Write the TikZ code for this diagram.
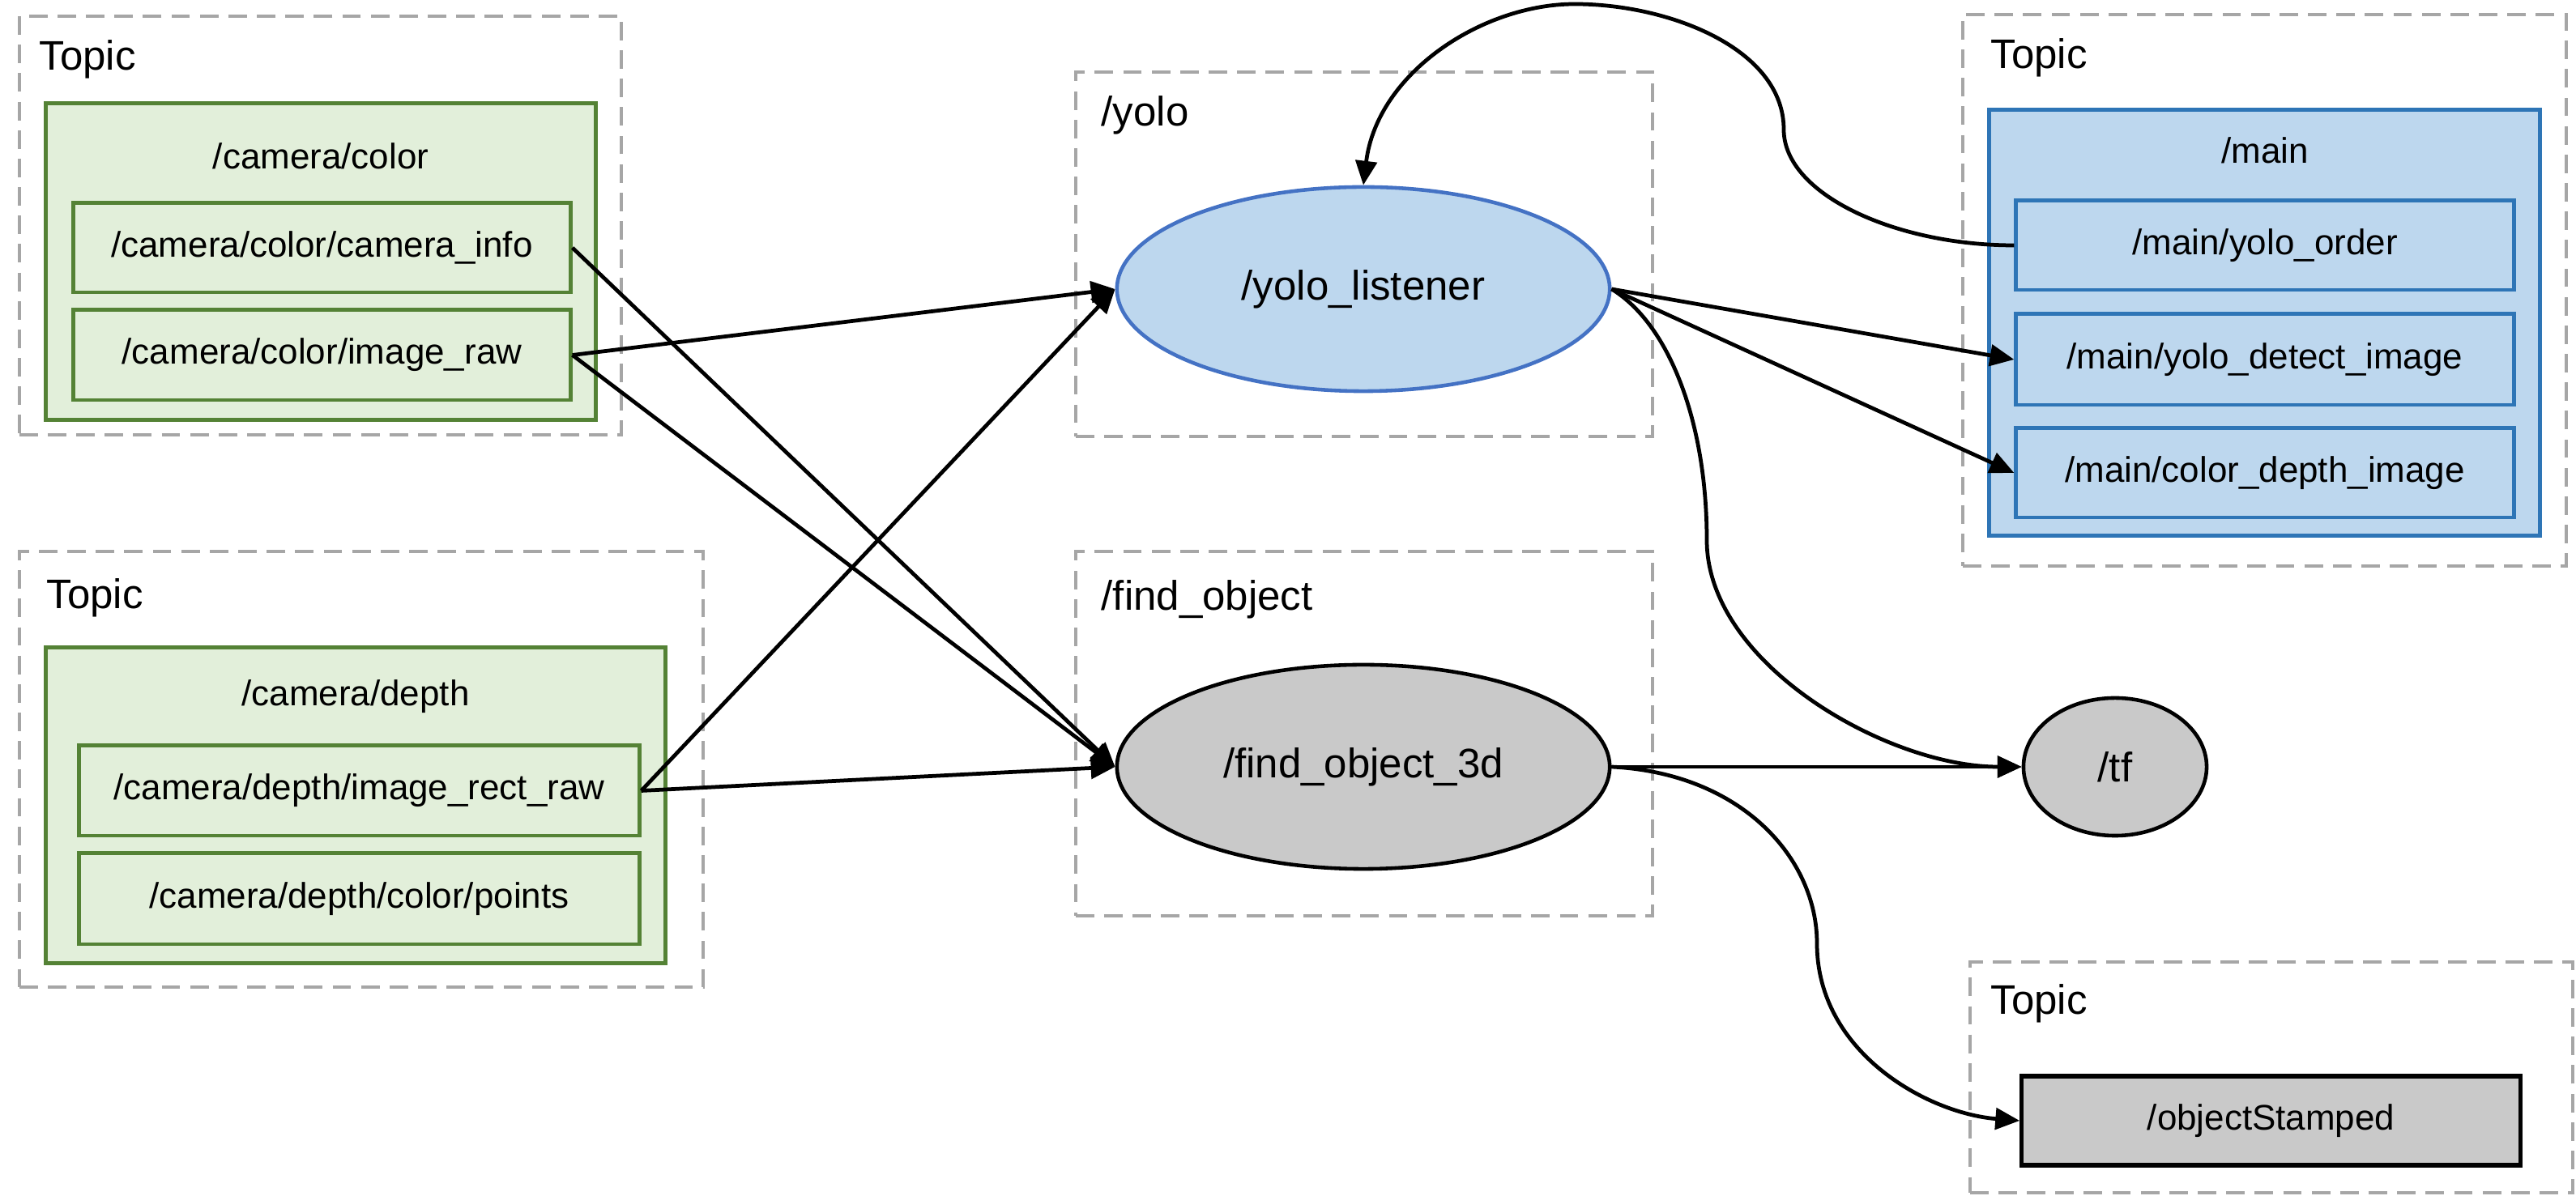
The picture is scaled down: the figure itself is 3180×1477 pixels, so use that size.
\documentclass[tikz,border=0pt]{standalone}
\usepackage{fontspec}
\setmainfont{Liberation Sans}
\usetikzlibrary{arrows.meta,shapes.geometric}
\definecolor{gfill}{HTML}{E2EFDA}
\definecolor{gline}{HTML}{548235}
\definecolor{bfill}{HTML}{BDD7EE}
\definecolor{bline}{HTML}{2E75B6}
\definecolor{eline}{HTML}{4472C4}
\definecolor{grfill}{HTML}{C9C9C9}
\definecolor{dgray}{HTML}{A6A6A6}
\begin{document}
\begin{tikzpicture}[x=0.01cm,y=-0.01cm,
  dashbox/.style={draw=dgray, line width=1.2pt, dash pattern=on 6.5pt off 3.5pt, rectangle, inner sep=0pt},
  gbox/.style={draw=gline, fill=gfill, line width=1.4pt, rectangle, inner sep=0pt},
  bbox/.style={draw=bline, fill=bfill, line width=1.4pt, rectangle, inner sep=0pt},
  kbox/.style={draw=black, fill=grfill, line width=1.5pt, rectangle, inner sep=0pt},
  bell/.style={ellipse, draw=eline, fill=bfill, line width=1.3pt, inner sep=0pt},
  kell/.style={ellipse, draw=black, fill=grfill, line width=1.3pt, inner sep=0pt},
  big/.style={font=\fontsize{14.5pt}{17pt}\selectfont},
  small/.style={font=\fontsize{12.5pt}{15pt}\selectfont},
  lbl/.style={big, anchor=west, inner sep=0pt},
  conn/.style={line width=1.35pt, -{Triangle[length=8.5pt,width=7.5pt]}},
]
\useasboundingbox (0,0) rectangle (3180,1477);

% ---------- top-left topic ----------
\node[dashbox, minimum width=7.43cm, minimum height=5.17cm] (tlbox) at (395.5,278.5) {};
\node[lbl] (tltopic) at (48,73) {Topic};
\node[gbox, minimum width=6.78cm, minimum height=3.90cm] (camcolor) at (396,323) {};
\node[small] (camcolorlbl) at (396,193) {/camera/color};
\node[gbox, small, minimum width=6.13cm, minimum height=1.10cm] (cinfo) at (397.5,306) {/camera/color/camera\_info};
\node[gbox, small, minimum width=6.13cm, minimum height=1.11cm] (craw) at (397.5,438.5) {/camera/color/image\_raw};

% ---------- bottom-left topic ----------
\node[dashbox, minimum width=8.44cm, minimum height=5.38cm] (blbox) at (446,950) {};
\node[lbl] (bltopic) at (57,738) {Topic};
\node[gbox, minimum width=7.64cm, minimum height=3.89cm] (camdepth) at (439,994.5) {};
\node[small] (camdepthlbl) at (439,860) {/camera/depth};
\node[gbox, small, minimum width=6.91cm, minimum height=1.11cm] (rect) at (443.5,976.5) {/camera/depth/image\_rect\_raw};
\node[gbox, small, minimum width=6.91cm, minimum height=1.12cm] (points) at (443.5,1110) {/camera/depth/color/points};

% ---------- yolo ----------
\node[dashbox, minimum width=7.12cm, minimum height=4.50cm] (yolobox) at (1684,314) {};
\node[lbl] (yololbl) at (1359,142) {/yolo};
\node[bell, big, minimum width=6.08cm, minimum height=2.52cm] (yl) at (1683,357) {/yolo\_listener};

% ---------- find_object ----------
\node[dashbox, minimum width=7.12cm, minimum height=4.50cm] (fobox) at (1684,906) {};
\node[lbl] (folbl) at (1359,740) {/find\_object};
\node[kell, big, minimum width=6.08cm, minimum height=2.52cm] (fo) at (1683,947) {/find\_object\_3d};

% ---------- tf ----------
\node[kell, big, minimum width=2.26cm, minimum height=1.70cm] (tf) at (2611,947) {/tf};

% ---------- top-right topic ----------
\node[dashbox, minimum width=7.45cm, minimum height=6.81cm] (trbox) at (2795.5,358.5) {};
\node[lbl] (trtopic) at (2457,71) {Topic};
\node[bbox, minimum width=6.79cm, minimum height=5.25cm] (main) at (2795.5,398.5) {};
\node[small] (mainlbl) at (2796,186) {/main};
\node[bbox, small, minimum width=6.14cm, minimum height=1.10cm] (yorder) at (2796,303) {/main/yolo\_order};
\node[bbox, small, minimum width=6.14cm, minimum height=1.12cm] (detect) at (2796,444) {/main/yolo\_detect\_image};
\node[bbox, small, minimum width=6.14cm, minimum height=1.10cm] (cdepth) at (2796,584) {/main/color\_depth\_image};

% ---------- bottom-right topic ----------
\node[dashbox, minimum width=7.44cm, minimum height=2.85cm] (brbox) at (2804,1330.5) {};
\node[lbl] (brtopic) at (2457,1239) {Topic};
\node[kbox, small, minimum width=6.15cm, minimum height=1.10cm] (ostamp) at (2803.5,1384) {/objectStamped};

% ---------- connectors ----------
\draw[conn] (cinfo.east) -- (fo.west);
\draw[conn] (craw.east) -- (yl.west);
\draw[conn] (craw.east) -- (fo.west);
\draw[conn] (rect.east) -- (yl.west);
\draw[conn] (rect.east) -- (fo.west);
\draw[conn] (yl.east) -- (detect.west);
\draw[conn] (yl.east) -- (cdepth.west);
\draw[conn] (fo.east) -- (tf.west);
\draw[conn] (yl.east) .. controls (2060,400) and (2107,520) .. (2107,667)
  .. controls (2107,820) and (2330,947) .. (tf.west);
\draw[conn] (yorder.west) .. controls (2340,303) and (2202,240) .. (2202,160)
  .. controls (2202,60) and (2060,5) .. (1944,5)
  .. controls (1830,5) and (1700,90) .. (yl.north);
\draw[conn] (fo.east) .. controls (2150,955) and (2243,1060) .. (2243,1165)
  .. controls (2243,1300) and (2380,1375) .. (ostamp.west);
\end{tikzpicture}
\end{document}
